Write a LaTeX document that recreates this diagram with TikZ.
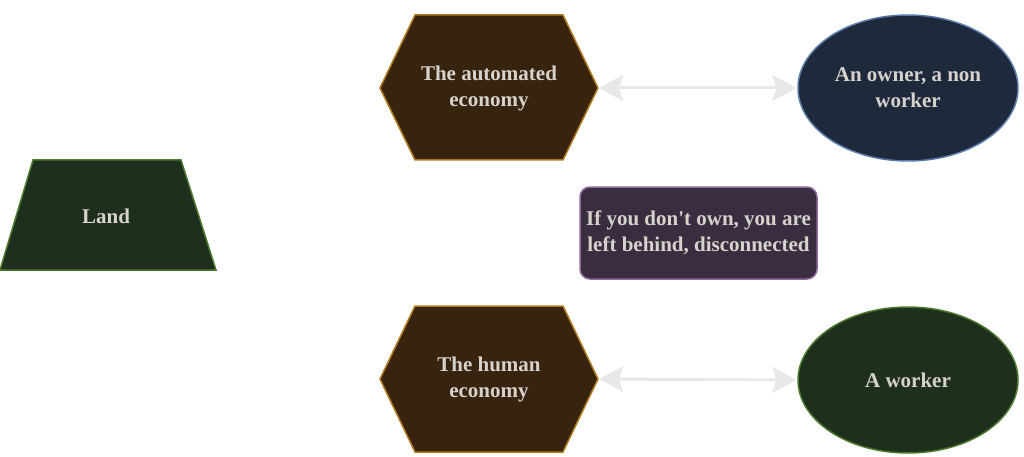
\documentclass[tikz,border=0pt]{standalone}
\usepackage{fontspec}
\setmainfont{Liberation Serif}
\usetikzlibrary{shapes.geometric,arrows.meta}
\definecolor{hexfill}{HTML}{38230E}
\definecolor{hexdraw}{HTML}{B07A1E}
\definecolor{bluefill}{HTML}{1E293B}
\definecolor{bluedraw}{HTML}{5A7CA8}
\definecolor{greenfill}{HTML}{1F2F1E}
\definecolor{greendraw}{HTML}{4C7A30}
\definecolor{purpfill}{HTML}{3B2D40}
\definecolor{purpdraw}{HTML}{8A6A9A}
\definecolor{txt}{HTML}{D6D2CC}
\definecolor{arrowc}{HTML}{E8E8E8}
\tikzset{
  lbl/.style={text=txt, font=\bfseries\fontsize{21}{26}\selectfont, align=center, inner sep=0pt},
  hexshape/.style={fill=hexfill, draw=hexdraw, line width=1.5pt},
  ell/.style={ellipse, minimum width=220pt, minimum height=146pt, line width=1.5pt, lbl},
  link/.style={draw=arrowc, line width=3pt, {Stealth[length=24pt,width=26pt,inset=4pt]}-{Stealth[length=24pt,width=26pt,inset=4pt]}, shorten <=1pt, shorten >=1pt}
}
\begin{document}
\begin{tikzpicture}[x=1pt,y=-1pt]
\useasboundingbox (0,0) rectangle (1024,457);
% hexagons
\draw[hexshape] (415,15) -- (563,15) -- (598,88) -- (563,160) -- (415,160) -- (380,88) -- cycle;
\node[lbl, minimum width=218pt, minimum height=145pt] (auto) at (489,88) {The automated\\economy};
\draw[hexshape] (415,306) -- (563,306) -- (598,379) -- (563,452) -- (415,452) -- (380,379) -- cycle;
\node[lbl, minimum width=218pt, minimum height=146pt] (human) at (489,379) {The human\\economy};
% ellipses
\node[ell, fill=bluefill, draw=bluedraw] (owner) at (908,88) {An owner, a non\\worker};
\node[ell, fill=greenfill, draw=greendraw] (worker) at (908,380) {A worker};
% trapezium
\draw[fill=greenfill, draw=greendraw, line width=1.5pt] (33,160) -- (181,160) -- (216,270) -- (0,270) -- cycle;
\node[lbl] (land) at (106,216) {Land};
% rounded box
\node[lbl, fill=purpfill, draw=purpdraw, line width=1.5pt, rounded corners=10pt, minimum width=237pt, minimum height=92pt] (note) at (698.5,233) {If you don\textquotesingle t own, you are\\left behind, disconnected};
% arrows
\draw[link] (auto.east) -- (owner.west);
\draw[link] (human.east) -- (worker.west);
\end{tikzpicture}
\end{document}
